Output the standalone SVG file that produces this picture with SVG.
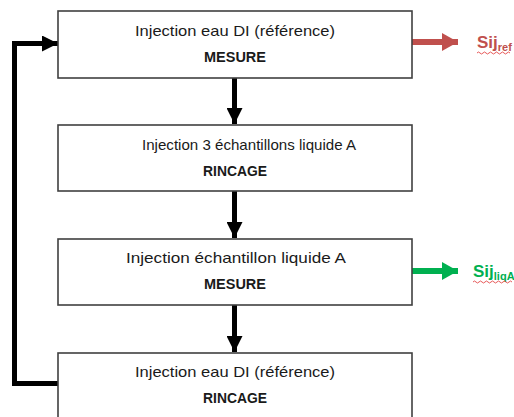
<svg xmlns="http://www.w3.org/2000/svg" width="514" height="417" viewBox="0 0 514 417">
<style>
.box{fill:#fff;stroke:#404040;stroke-width:1.6}
.t{font-family:"Liberation Sans",Arial,sans-serif;font-size:15px;fill:#1a1a1a;text-anchor:middle}
.b{font-weight:bold;font-size:14.5px}
.flow{stroke:#000;stroke-width:5;fill:none}
.lbl{font-family:"Liberation Sans",Arial,sans-serif;font-weight:bold;font-size:17px}
.sub{font-size:11px}
.wavy{fill:none;stroke:#e03030;stroke-width:0.8}
</style>
<defs>
<marker id="ah" viewBox="0 0 16 16" refX="16" refY="8" markerWidth="16" markerHeight="16" markerUnits="userSpaceOnUse" orient="auto"><path d="M0,0 L16,8 L0,16 Z" fill="#000"/></marker>
<marker id="ahr" viewBox="0 0 16 18" refX="16" refY="9" markerWidth="16" markerHeight="18" markerUnits="userSpaceOnUse" orient="auto"><path d="M0,0 L16,9 L0,18 Z" fill="#C0504D"/></marker>
<marker id="ahg" viewBox="0 0 16 18" refX="16" refY="9" markerWidth="16" markerHeight="18" markerUnits="userSpaceOnUse" orient="auto"><path d="M0,0 L16,9 L0,18 Z" fill="#00B050"/></marker>
</defs>
<g id="connectors">
<path class="flow" d="M234.5,78 V124" marker-end="url(#ah)"/>
<path class="flow" d="M234.5,191 V238" marker-end="url(#ah)"/>
<path class="flow" d="M234.5,305 V352" marker-end="url(#ah)"/>
<path class="flow" d="M58,383.5 H14.5 V43.5 H58" marker-end="url(#ah)"/>
<path d="M412,42 H458" stroke="#C0504D" stroke-width="6" fill="none" marker-end="url(#ahr)"/>
<path d="M412,271 H458" stroke="#00B050" stroke-width="6" fill="none" marker-end="url(#ahg)"/>
</g>
<g id="n1">
<rect class="box" x="58" y="11" width="354" height="67"/>
<text class="t" x="235" y="36" textLength="200" lengthAdjust="spacingAndGlyphs">Injection eau DI (référence)</text>
<text class="t b" x="235" y="62" textLength="62" lengthAdjust="spacingAndGlyphs">MESURE</text>
</g>
<g id="n2">
<rect class="box" x="58" y="125" width="354" height="66"/>
<text class="t" x="249" y="150" textLength="214" lengthAdjust="spacingAndGlyphs">Injection 3 échantillons liquide A</text>
<text class="t b" x="235" y="176" textLength="64" lengthAdjust="spacingAndGlyphs">RINCAGE</text>
</g>
<g id="n3">
<rect class="box" x="58" y="239" width="354" height="66"/>
<text class="t" x="236" y="263" textLength="220" lengthAdjust="spacingAndGlyphs">Injection échantillon liquide A</text>
<text class="t b" x="235" y="289" textLength="62" lengthAdjust="spacingAndGlyphs">MESURE</text>
</g>
<g id="n4">
<rect class="box" x="58" y="353" width="354" height="80"/>
<text class="t" x="235" y="377" textLength="200" lengthAdjust="spacingAndGlyphs">Injection eau DI (référence)</text>
<text class="t b" x="235" y="403" textLength="64" lengthAdjust="spacingAndGlyphs">RINCAGE</text>
</g>
<g id="out-ref">
<text class="lbl" x="477" y="48" fill="#C0504D">Sij<tspan class="sub" dy="3">ref</tspan></text>
<path class="wavy" d="M477,53 q1.5,-2 3,0 t3,0 t3,0 t3,0 t3,0 t3,0 t3,0 t3,0 t3,0 t3,0 t3,0"/>
</g>
<g id="out-liq">
<text class="lbl" x="473" y="277" fill="#00B050">Sij<tspan class="sub" dy="3">liqA</tspan></text>
<path class="wavy" d="M473,282 q1.5,-2 3,0 t3,0 t3,0 t3,0 t3,0 t3,0 t3,0 t3,0 t3,0 t3,0 t3,0 t3,0 t3,0"/>
</g>
</svg>
